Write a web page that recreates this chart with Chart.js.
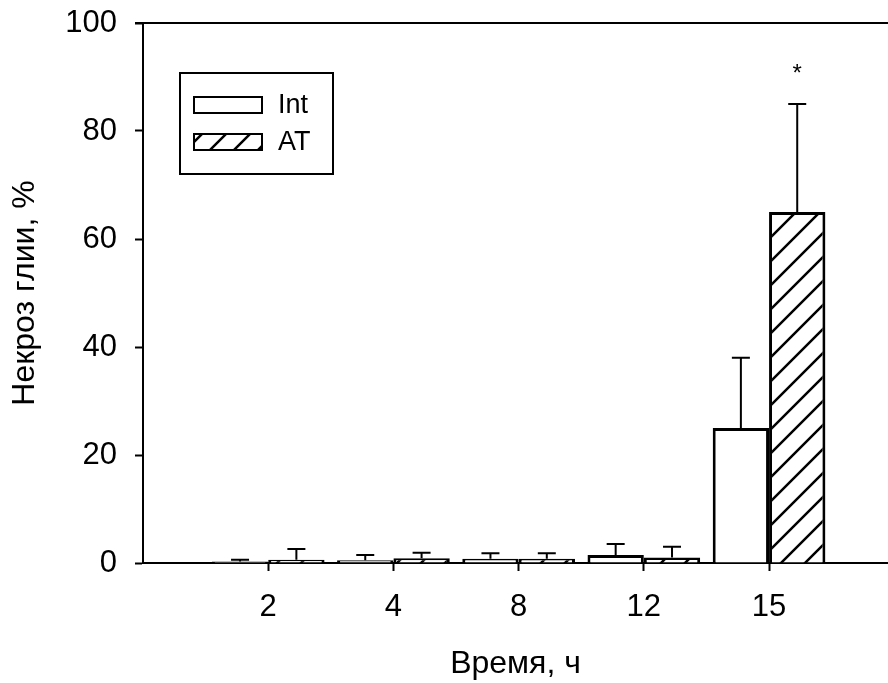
<!DOCTYPE html>
<html>
<head>
<meta charset="utf-8">
<script src="https://cdn.jsdelivr.net/npm/chart.js@4.4.0/dist/chart.umd.min.js"></script>
<style>
  html, body { margin: 0; padding: 0; background: #fff; overflow: hidden; }
  canvas { display: block; }
</style>
</head>
<body>
<canvas id="barChart" width="888" height="683"></canvas>
<script>
// time points, h
const categories = ['2', '4', '8', '12', '15'];
// glial necrosis, % (mean and upper error)
const intValues = [0.3, 0.5, 0.8, 1.5, 25];
const intErrors = [0.3, 1.0, 1.0, 2.0, 13];
const atValues = [0.6, 0.9, 0.8, 1.0, 65];
const atErrors = [2.0, 1.0, 1.0, 2.0, 20];
const yTicks = [0, 20, 40, 60, 80, 100];
const starred = [false, false, false, false, true];

const FONT = "'Liberation Sans', Arial, sans-serif";
Chart.defaults.font.family = FONT;
Chart.defaults.color = '#000';

const canvas = document.getElementById('barChart');

function hatchPattern() {
    const c = document.createElement('canvas');
    c.width = 24;
    c.height = 24;
    const g = c.getContext('2d');
    g.fillStyle = '#fff';
    g.fillRect(0, 0, 24, 24);
    g.strokeStyle = '#000';
    g.lineWidth = 2.5;
    g.beginPath();
    g.moveTo(0, 24); g.lineTo(24, 0);
    g.moveTo(-6, 6); g.lineTo(6, -6);
    g.moveTo(18, 30); g.lineTo(30, 18);
    g.stroke();
    return canvas.getContext('2d').createPattern(c, 'repeat');
}
const hatch = hatchPattern();

const errors = [intErrors, atErrors];

const extras = {
    id: 'extras',
    afterDatasetsDraw(chart) {
        const ctx = chart.ctx;
        const y = chart.scales.y;
        const area = chart.chartArea;
        ctx.save();
        ctx.strokeStyle = '#000';
        ctx.fillStyle = '#000';
        ctx.lineWidth = 2;

        // top frame line
        ctx.beginPath();
        ctx.moveTo(area.left - 8, area.top);
        ctx.lineTo(area.right, area.top);
        ctx.stroke();

        // upper error bars
        errors.forEach((errs, d) => {
            const meta = chart.getDatasetMeta(d);
            meta.data.forEach((bar, i) => {
                const v = chart.data.datasets[d].data[i].y;
                const top = y.getPixelForValue(v + errs[i]);
                ctx.beginPath();
                ctx.moveTo(bar.x, bar.y);
                ctx.lineTo(bar.x, top);
                ctx.moveTo(bar.x - 9, top);
                ctx.lineTo(bar.x + 9, top);
                ctx.stroke();
                if (d === 1 && starred[i]) {
                    ctx.font = '24px ' + FONT;
                    ctx.textAlign = 'center';
                    ctx.textBaseline = 'alphabetic';
                    ctx.fillText('*', bar.x, top - 23);
                }
            });
        });

        // legend box
        ctx.strokeRect(180, 73, 153, 101);
        chart.data.datasets.forEach((ds, d) => {
            const sy = 97 + d * 37;
            ctx.fillStyle = ds.backgroundColor;
            ctx.fillRect(194, sy, 68, 16);
            ctx.strokeRect(194, sy, 68, 16);
            ctx.fillStyle = '#000';
            ctx.font = '27px ' + FONT;
            ctx.textAlign = 'left';
            ctx.textBaseline = 'middle';
            ctx.fillText(ds.label, 278, sy + 9);
        });
        ctx.restore();
    }
};

new Chart(canvas, {
    type: 'bar',
    data: {
        datasets: [{
            label: 'Int',
            data: categories.map((c, i) => ({ x: i + 1, y: intValues[i] })),
            backgroundColor: '#fff',
            borderColor: '#000',
            borderWidth: 3
        }, {
            label: 'AT',
            data: categories.map((c, i) => ({ x: i + 1, y: atValues[i] })),
            backgroundColor: hatch,
            borderColor: '#000',
            borderWidth: 3
        }]
    },
    options: {
        responsive: false,
        animation: false,
        devicePixelRatio: 1,
        barPercentage: 1.0,
        categoryPercentage: 0.9,
        layout: { padding: { top: 23, right: 0, left: 0, bottom: 0 } },
        plugins: {
            legend: { display: false },
            tooltip: { enabled: false }
        },
        scales: {
            x: {
                type: 'linear',
                offset: false,
                min: 0,
                max: 5.95,
                ticks: {
                    stepSize: 1,
                    font: { size: 31 },
                    padding: 18,
                    maxRotation: 0,
                    callback: v => categories[v - 1]
                },
                afterBuildTicks: s => {
                    s.ticks = s.ticks.filter(t => t.value >= 1 && t.value <= 5);
                },
                afterFit: s => {
                    s.height = 120;
                    s.paddingLeft = 0;
                    s.paddingRight = 0;
                },
                grid: {
                    offset: false,
                    drawOnChartArea: false,
                    tickLength: 8,
                    tickWidth: 2,
                    tickColor: '#000'
                },
                border: { display: true, color: '#000', width: 2 },
                title: {
                    display: true,
                    text: 'Время, ч',
                    font: { size: 32 },
                    padding: { top: 0, bottom: 0 }
                }
            },
            y: {
                min: 0,
                max: 100,
                afterBuildTicks: s => {
                    s.ticks = yTicks.map(v => ({ value: v }));
                },
                afterFit: s => {
                    s.width = 143;
                    s.paddingTop = 0;
                    s.paddingBottom = 0;
                },
                ticks: {
                    font: { size: 31 },
                    padding: 18
                },
                grid: {
                    drawOnChartArea: false,
                    tickLength: 8,
                    tickWidth: 2,
                    tickColor: '#000'
                },
                border: { display: true, color: '#000', width: 2 },
                title: {
                    display: true,
                    text: 'Некроз глии, %',
                    font: { size: 32 },
                    padding: { top: 6, bottom: 0 }
                }
            }
        }
    },
    plugins: [extras]
});
</script>
</body>
</html>
